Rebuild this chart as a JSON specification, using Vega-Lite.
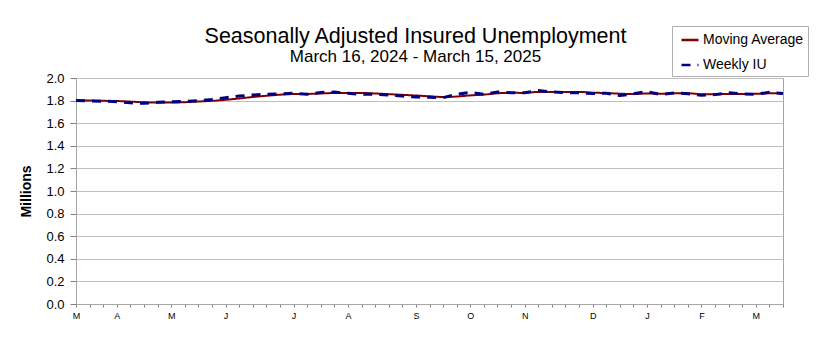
{
  "$schema": "https://vega.github.io/schema/vega-lite/v6.json",
  "width": 707,
  "height": 226,
  "autosize": {"type": "none"},
  "padding": {"left": 76, "top": 78, "right": 54, "bottom": 52},
  "background": "white",
  "title": {
    "text": "Seasonally Adjusted Insured Unemployment",
    "subtitle": "March 16, 2024 - March 15, 2025",
    "anchor": "middle",
    "frame": "group",
    "dx": -14,
    "dy": 53,
    "offset": 14,
    "font": "Liberation Sans",
    "fontSize": 21.5,
    "fontWeight": "normal",
    "color": "black",
    "subtitleFont": "Liberation Sans",
    "subtitleFontSize": 17,
    "subtitleColor": "black",
    "subtitlePadding": 1
  },
  "config": {"view": {"stroke": "#a6a6a6"}, "font": "Liberation Sans"},
  "data": {
    "values": [
      {"week": "2024-03-16", "weekly": 1.800, "ma": 1.800},
      {"week": "2024-03-23", "weekly": 1.797, "ma": 1.800},
      {"week": "2024-03-30", "weekly": 1.795, "ma": 1.798},
      {"week": "2024-04-06", "weekly": 1.790, "ma": 1.796},
      {"week": "2024-04-13", "weekly": 1.780, "ma": 1.791},
      {"week": "2024-04-20", "weekly": 1.776, "ma": 1.785},
      {"week": "2024-04-27", "weekly": 1.785, "ma": 1.783},
      {"week": "2024-05-04", "weekly": 1.790, "ma": 1.783},
      {"week": "2024-05-11", "weekly": 1.793, "ma": 1.786},
      {"week": "2024-05-18", "weekly": 1.800, "ma": 1.792},
      {"week": "2024-05-25", "weekly": 1.810, "ma": 1.798},
      {"week": "2024-06-01", "weekly": 1.826, "ma": 1.807},
      {"week": "2024-06-08", "weekly": 1.840, "ma": 1.819},
      {"week": "2024-06-15", "weekly": 1.850, "ma": 1.832},
      {"week": "2024-06-22", "weekly": 1.856, "ma": 1.843},
      {"week": "2024-06-29", "weekly": 1.860, "ma": 1.852},
      {"week": "2024-07-06", "weekly": 1.865, "ma": 1.858},
      {"week": "2024-07-13", "weekly": 1.856, "ma": 1.859},
      {"week": "2024-07-20", "weekly": 1.872, "ma": 1.863},
      {"week": "2024-07-27", "weekly": 1.875, "ma": 1.867},
      {"week": "2024-08-03", "weekly": 1.865, "ma": 1.867},
      {"week": "2024-08-10", "weekly": 1.856, "ma": 1.867},
      {"week": "2024-08-17", "weekly": 1.856, "ma": 1.863},
      {"week": "2024-08-24", "weekly": 1.850, "ma": 1.857},
      {"week": "2024-08-31", "weekly": 1.840, "ma": 1.851},
      {"week": "2024-09-07", "weekly": 1.832, "ma": 1.845},
      {"week": "2024-09-14", "weekly": 1.830, "ma": 1.838},
      {"week": "2024-09-21", "weekly": 1.826, "ma": 1.832},
      {"week": "2024-09-28", "weekly": 1.856, "ma": 1.836},
      {"week": "2024-10-05", "weekly": 1.873, "ma": 1.846},
      {"week": "2024-10-12", "weekly": 1.856, "ma": 1.853},
      {"week": "2024-10-19", "weekly": 1.876, "ma": 1.865},
      {"week": "2024-10-26", "weekly": 1.870, "ma": 1.869},
      {"week": "2024-11-02", "weekly": 1.870, "ma": 1.868},
      {"week": "2024-11-09", "weekly": 1.890, "ma": 1.877},
      {"week": "2024-11-16", "weekly": 1.876, "ma": 1.877},
      {"week": "2024-11-23", "weekly": 1.870, "ma": 1.877},
      {"week": "2024-11-30", "weekly": 1.870, "ma": 1.877},
      {"week": "2024-12-07", "weekly": 1.862, "ma": 1.870},
      {"week": "2024-12-14", "weekly": 1.865, "ma": 1.867},
      {"week": "2024-12-21", "weekly": 1.845, "ma": 1.861},
      {"week": "2024-12-28", "weekly": 1.860, "ma": 1.858},
      {"week": "2025-01-04", "weekly": 1.880, "ma": 1.863},
      {"week": "2025-01-11", "weekly": 1.853, "ma": 1.860},
      {"week": "2025-01-18", "weekly": 1.868, "ma": 1.865},
      {"week": "2025-01-25", "weekly": 1.860, "ma": 1.865},
      {"week": "2025-02-01", "weekly": 1.847, "ma": 1.857},
      {"week": "2025-02-08", "weekly": 1.853, "ma": 1.857},
      {"week": "2025-02-15", "weekly": 1.870, "ma": 1.858},
      {"week": "2025-02-22", "weekly": 1.860, "ma": 1.858},
      {"week": "2025-03-01", "weekly": 1.856, "ma": 1.860},
      {"week": "2025-03-08", "weekly": 1.873, "ma": 1.865},
      {"week": "2025-03-15", "weekly": 1.862, "ma": 1.863}
    ]
  },
  "transform": [{"fold": ["ma", "weekly"], "as": ["series", "value"]}],
  "encoding": {
    "x": {
      "field": "week",
      "type": "ordinal",
      "sort": null,
      "scale": {"type": "point", "padding": 0},
      "axis": {
        "title": null,
        "labelAngle": 0,
        "labelOverlap": false,
        "labelExpr": "(datum.value == '2024-03-16' || toNumber(substring(datum.value, 8, 10)) <= 7) ? substring('JFMAMJJASOND', toNumber(substring(datum.value, 5, 7)) - 1, toNumber(substring(datum.value, 5, 7))) : ''",
        "labelFont": "Liberation Sans",
        "labelFontSize": 9,
        "labelColor": "black",
        "labelPadding": 4,
        "tickSize": 3,
        "tickColor": "#808080",
        "domainColor": "#a6a6a6",
        "grid": false
      }
    },
    "y": {
      "field": "value",
      "type": "quantitative",
      "title": "Millions",
      "scale": {"domain": [0, 2], "nice": false, "zero": true},
      "axis": {
        "values": [0, 0.2, 0.4, 0.6, 0.8, 1, 1.2, 1.4, 1.6, 1.8, 2],
        "labelOverlap": false,
        "format": ".1f",
        "labelFont": "Liberation Sans",
        "labelFontSize": 13,
        "labelColor": "black",
        "labelPadding": 6,
        "tickSize": 6,
        "tickColor": "#808080",
        "domainColor": "#a6a6a6",
        "gridColor": "#bfbfbf",
        "titleFont": "Liberation Sans",
        "titleFontSize": 14,
        "titleFontWeight": "bold",
        "titleColor": "black",
        "titlePadding": 12
      }
    },
    "color": {
      "field": "series",
      "type": "nominal",
      "scale": {"domain": ["ma", "weekly"], "range": ["#800000", "#000080"]},
      "legend": {
        "orient": "none", "legendX": 596, "legendY": -52, "title": null,
        "labelExpr": "datum.value == 'ma' ? 'Moving Average' : 'Weekly IU'",
        "strokeColor": "#b0b0b0", "fillColor": "white", "padding": 4,
        "symbolType": "stroke", "symbolSize": 289, "symbolStrokeWidth": 2.5, "symbolOffset": 4,
        "labelFont": "Liberation Sans", "labelFontSize": 14, "labelColor": "black",
        "rowPadding": 8, "labelOffset": 3
      }
    },
    "strokeDash": {
      "field": "series",
      "type": "nominal",
      "scale": {"domain": ["ma", "weekly"], "range": [[1, 0], [9, 7]]},
      "legend": {
        "orient": "none", "legendX": 596, "legendY": -52, "title": null,
        "labelExpr": "datum.value == 'ma' ? 'Moving Average' : 'Weekly IU'",
        "strokeColor": "#b0b0b0", "fillColor": "white", "padding": 4,
        "symbolType": "stroke", "symbolSize": 289, "symbolStrokeWidth": 2.5, "symbolOffset": 4,
        "labelFont": "Liberation Sans", "labelFontSize": 14, "labelColor": "black",
        "rowPadding": 8, "labelOffset": 3
      }
    }
  },
  "layer": [
    {
      "transform": [{"filter": "datum.series == 'ma'"}],
      "mark": {"type": "line", "strokeWidth": 2, "interpolate": "monotone"}
    },
    {
      "transform": [{"filter": "datum.series == 'weekly'"}],
      "mark": {"type": "line", "strokeWidth": 3}
    }
  ]
}
